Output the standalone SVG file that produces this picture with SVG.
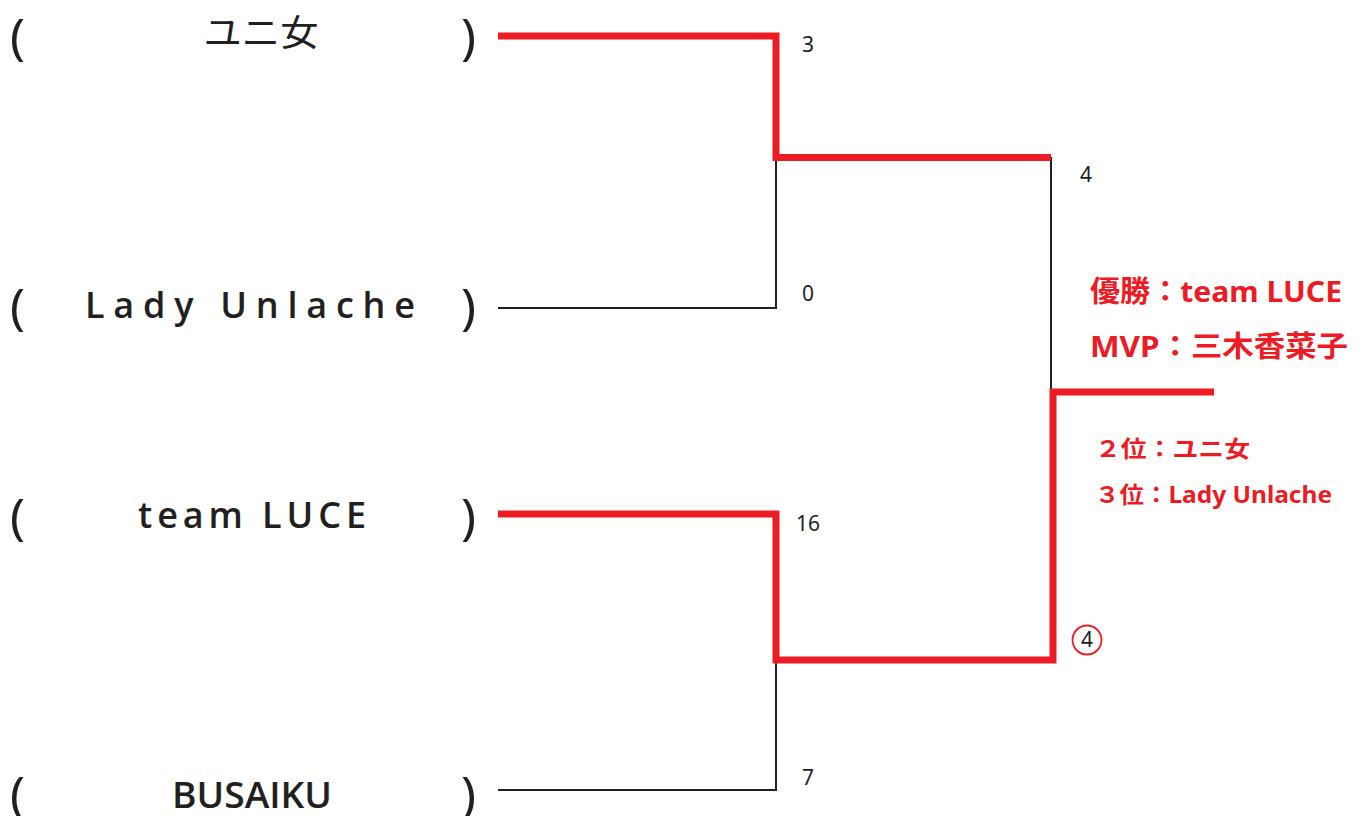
<svg xmlns="http://www.w3.org/2000/svg" width="1364" height="816" viewBox="0 0 1364 816">
<style>
.red{fill:none;stroke:#ED1C24;stroke-width:7;stroke-linecap:butt;stroke-linejoin:miter}
.blk{fill:none;stroke:#231F20;stroke-width:2}
.paren{font-family:"Noto Sans","DejaVu Sans",sans-serif;font-size:50px;fill:#231F20}
.name{font-family:"Open Sans","Noto Sans","Noto Sans CJK JP",sans-serif;font-weight:600;font-size:36px;fill:#231F20;text-anchor:middle}
.score{font-family:"Noto Sans",sans-serif;font-size:21px;fill:#231F20}
.res{font-family:"Noto Sans","Noto Sans CJK JP",sans-serif;font-weight:bold;fill:#ED1C24}
</style>
<rect width="1364" height="816" fill="#fff"/>
<g id="team1">
<text class="paren" x="10" y="54">(</text>
<text class="name" x="261" y="46" font-size="39" style="font-family:'Noto Sans CJK JP',sans-serif;font-weight:400" textLength="115" lengthAdjust="spacingAndGlyphs">ユニ女</text>
<text class="paren" x="461" y="54">)</text>
</g>
<g id="team2">
<text class="paren" x="10" y="324">(</text>
<text class="name" x="250" y="318" textLength="330" lengthAdjust="spacing">Lady Unlache</text>
<text class="paren" x="461" y="324">)</text>
</g>
<g id="team3">
<text class="paren" x="10" y="534">(</text>
<text class="name" x="252" y="528" textLength="228" lengthAdjust="spacing">team LUCE</text>
<text class="paren" x="461" y="534">)</text>
</g>
<g id="team4">
<text class="paren" x="10" y="812">(</text>
<text class="name" x="252" y="808" textLength="160" lengthAdjust="spacingAndGlyphs">BUSAIKU</text>
<text class="paren" x="461" y="812">)</text>
</g>
<g id="connectors">
<polyline class="blk" points="776,157 776,308 498,308"/>
<polyline class="blk" points="1051,157 1051,392"/>
<polyline class="blk" points="776,660 776,790 498,790"/>
<polyline class="red" points="498,36 776,36 776,157.5 1051,157.5"/>
<polyline class="red" points="498,514 776,514 776,660 1053,660 1053,392 1214,392"/>
</g>
<g id="scores">
<text class="score" x="802" y="52">3</text>
<text class="score" x="802" y="301">0</text>
<text class="score" x="1080" y="182">4</text>
<text class="score" x="796" y="531">16</text>
<text class="score" x="802" y="785">7</text>
<circle cx="1087" cy="640" r="14.5" fill="none" stroke="#ED1C24" stroke-width="1.8"/>
<text class="score" x="1087" y="647" text-anchor="middle">4</text>
</g>
<g id="results">
<text class="res" x="1090" y="302" font-size="29" textLength="252" lengthAdjust="spacingAndGlyphs">優勝：team LUCE</text>
<text class="res" x="1090" y="357" font-size="29" textLength="258" lengthAdjust="spacingAndGlyphs">MVP：三木香菜子</text>
<text class="res" x="1095" y="457" font-size="23" textLength="155" lengthAdjust="spacingAndGlyphs">２位：ユニ女</text>
<text class="res" x="1095" y="503" font-size="23" textLength="237" lengthAdjust="spacingAndGlyphs">３位：Lady Unlache</text>
</g>
</svg>
